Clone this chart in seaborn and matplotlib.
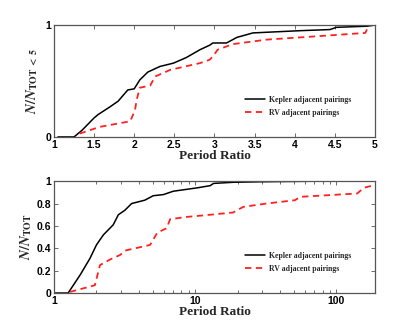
import numpy as np
import pandas as pd
import matplotlib
matplotlib.use("Agg")
import matplotlib.pyplot as plt
import seaborn as sns
from matplotlib.ticker import FixedLocator, NullFormatter, LogLocator

# ---- data ----
kep_top_x = [1.05, 1.25, 1.35, 1.5, 1.55, 1.7, 1.8, 1.92, 2.0, 2.07, 2.17, 2.32, 2.49, 2.65, 2.82, 2.94,
             2.98, 3.15, 3.28, 3.48, 4.07, 4.44, 4.52, 4.9, 5.0]
kep_top_y = [0.0, 0.0, 0.06, 0.17, 0.20, 0.27, 0.32, 0.42, 0.43, 0.51, 0.58, 0.63, 0.66, 0.71, 0.78, 0.82,
             0.84, 0.84, 0.89, 0.93, 0.95, 0.96, 0.98, 0.99, 1.0]
rv_top_x = [1.32, 1.57, 1.95, 2.01, 2.03, 2.07, 2.2, 2.26, 2.45, 2.82, 2.94, 2.98, 3.04, 3.23, 3.65, 4.07,
            4.48, 4.88, 4.92]
rv_top_y = [0.03, 0.09, 0.14, 0.24, 0.33, 0.44, 0.46, 0.54, 0.60, 0.66, 0.69, 0.72, 0.78, 0.83, 0.87, 0.89,
            0.91, 0.93, 0.99]

kep_bot_x = [1.0, 1.26, 1.53, 1.8, 2.0, 2.24, 2.63, 2.86, 3.18, 3.55, 4.4, 5.05, 5.96, 7.0, 10.3, 12.8,
             13.5, 18.6, 30.0, 73.0]
kep_bot_y = [0.0, 0.0, 0.16, 0.31, 0.43, 0.52, 0.61, 0.70, 0.74, 0.80, 0.83, 0.87, 0.88, 0.91, 0.94, 0.96,
             0.98, 0.99, 0.995, 1.0]
rv_bot_x = [1.3, 1.95, 2.12, 2.5, 2.94, 3.2, 4.8, 5.4, 6.3, 6.65, 8.7, 12.8, 18.6, 21.9, 32.0, 51.0, 55.6,
            141.0, 156.0, 180.0]
rv_bot_y = [0.01, 0.07, 0.25, 0.30, 0.34, 0.38, 0.43, 0.54, 0.58, 0.66, 0.68, 0.70, 0.72, 0.77, 0.80, 0.83,
            0.86, 0.89, 0.94, 0.96]

labels = ["Kepler adjacent pairings", "RV adjacent pairings"]
top_xticks = [1, 1.5, 2, 2.5, 3, 3.5, 4, 4.5, 5]
top_xticklabels = ["1", "1.5", "2", "2.5", "3", "3.5", "4", "4.5", "5"]
top_yticks = [0, 1]
bot_xticks = [1, 10, 100]
bot_xticklabels = ["1", "10", "100"]
bot_yticks = [0, 0.2, 0.4, 0.6, 0.8, 1]
bot_yticklabels = ["0", "0.2", "0.4", "0.6", "0.8", "1"]

sns.set_style("ticks")
plt.rcParams["font.family"] = ["Liberation Serif", "DejaVu Serif"]
plt.rcParams["mathtext.fontset"] = "stix"

fig = plt.figure(figsize=(4.15, 3.3), dpi=100)
ax1 = fig.add_axes([0.130, 0.585, 0.7735, 0.339])
ax2 = fig.add_axes([0.130, 0.112, 0.7735, 0.339])

def frame(df_k, df_r, ax):
    sns.lineplot(data=df_k, x="x", y="y", ax=ax, color="black", lw=1.1, sort=False,
                 label=labels[0], estimator=None)
    sns.lineplot(data=df_r, x="x", y="y", ax=ax, color="#ff2020", lw=1.3, sort=False,
                 label=labels[1], estimator=None, linestyle=(0, (3.5, 2.5)))

frame(pd.DataFrame({"x": kep_top_x, "y": kep_top_y}), pd.DataFrame({"x": rv_top_x, "y": rv_top_y}), ax1)
frame(pd.DataFrame({"x": kep_bot_x, "y": kep_bot_y}), pd.DataFrame({"x": rv_bot_x, "y": rv_bot_y}), ax2)

tickfont = dict(family="Liberation Sans", weight="bold", size=7.5)

ax1.set_xlim(1, 5)
ax1.set_ylim(0, 1)
ax1.set_xticks(top_xticks)
ax1.set_xticklabels(top_xticklabels, fontdict=tickfont)
ax1.set_yticks(top_yticks)
ax1.set_yticklabels(["0", "1"], fontdict=tickfont)

ax2.set_xscale("log")
ax2.set_xlim(1, 188)
ax2.set_ylim(0, 1)
ax2.xaxis.set_major_locator(FixedLocator(bot_xticks))
ax2.xaxis.set_minor_locator(LogLocator(base=10, subs=np.arange(2, 10)))
ax2.xaxis.set_minor_formatter(NullFormatter())
ax2.set_xticklabels(bot_xticklabels, fontdict=tickfont)
ax2.set_yticks(bot_yticks)
ax2.set_yticklabels(bot_yticklabels, fontdict=tickfont)

for ax in (ax1, ax2):
    ax.tick_params(which="both", direction="in", top=True, right=True, length=3, width=0.6,
                   colors="#555555", labelcolor="black", pad=2)
    ax.tick_params(which="minor", length=2)
    for s in ax.spines.values():
        s.set_color("#555555")
        s.set_linewidth(0.9)
    ax.set_xlabel("Period Ratio", fontsize=9.5, fontweight="bold", labelpad=0)
    leg = ax.legend(loc="center left", bbox_to_anchor=(0.595, 0.275), frameon=False,
                    prop=dict(family="Liberation Serif", weight="bold", size=5.6),
                    handlelength=2.6, handletextpad=0.45, labelspacing=0.65,
                    borderpad=0, borderaxespad=0)

ax1.set_ylabel(r"$\boldsymbol{N/N}_{\mathbf{TOT\ <\ 5}}$", fontsize=10, labelpad=4)
ax2.set_ylabel(r"$\boldsymbol{N/N}_{\mathbf{TOT}}$", fontsize=10, labelpad=2)

fig.savefig("out.png", dpi=100)
